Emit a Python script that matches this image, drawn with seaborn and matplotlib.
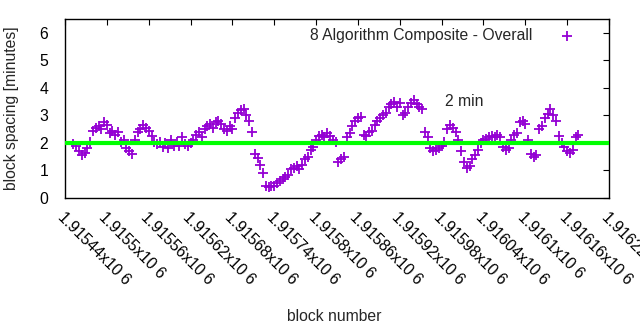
import matplotlib
matplotlib.use("Agg")
import matplotlib.pyplot as plt
import seaborn as sns
import numpy as np
import pandas as pd

# ---- data ----
block_start = 1915452
block_step = 4
spacing = [
    1.95, 1.9, 1.7, 1.55, 1.65, 1.8, 2.05, 2.45, 2.55, 2.6,
    2.5, 2.75, 2.65, 2.35, 2.45, 2.3, 2.4, 2.05, 2.1, 1.8,
    1.7, 1.6, 2.1, 2.4, 2.5, 2.65, 2.55, 2.45, 2.25, 2.05,
    1.95, 2.05, 1.85, 2.0, 1.8, 2.1, 1.9, 2.05, 1.9, 2.2,
    1.95, 1.9, 2.0, 2.1, 2.3, 2.4, 2.2, 2.5, 2.6, 2.7,
    2.55, 2.75, 2.8, 2.7, 2.5, 2.45, 2.6, 2.5, 2.9, 3.1,
    3.2, 3.25, 3.0, 2.8, 2.4, 1.6, 1.45, 1.2, 0.9, 0.45,
    0.4, 0.45, 0.45, 0.55, 0.6, 0.7, 0.75, 0.85, 1.05, 1.1,
    1.15, 1.05, 1.2, 1.4, 1.5, 1.75, 1.85, 2.1, 2.25, 2.3,
    2.2, 2.35, 2.25, 2.1, 2.05, 1.3, 1.4, 1.5, 2.2, 2.35,
    2.6, 2.8, 2.9, 2.95, 2.3, 2.25, 2.4, 2.45, 2.65, 2.8,
    2.9, 3.0, 3.1, 3.3, 3.4, 3.5, 3.3, 3.45, 3.0, 3.1,
    3.3, 3.45, 3.55, 3.4, 3.3, 3.25, 2.4, 2.2, 1.8, 1.7,
    1.75, 1.8, 1.9, 2.05, 2.5, 2.65, 2.55, 2.4, 2.1, 1.7,
    1.3, 1.1, 1.15, 1.4, 1.55, 1.75, 2.0, 2.1, 2.15, 2.2,
    2.25, 2.2, 2.3, 2.2, 1.85, 1.75, 1.8, 2.1, 2.3, 2.35,
    2.75, 2.8, 2.7, 2.1, 1.6, 1.5, 1.55, 2.5, 2.6, 2.9,
    3.05, 3.25, 3.0, 2.8, 2.25, 2.0, 1.85, 1.7, 1.65, 1.75,
    2.2, 2.3,
]
blocks = [block_start + block_step * i for i in range(len(spacing))]
target_minutes = 2
series_label = "8 Algorithm Composite - Overall"
tick_values = [1915440, 1915500, 1915560, 1915620, 1915680, 1915740, 1915800,
               1915860, 1915920, 1915980, 1916040, 1916100, 1916160, 1916220]
tick_labels = ["1.91544x10 6", "1.9155x10 6", "1.91556x10 6", "1.91562x10 6",
               "1.91568x10 6", "1.91574x10 6", "1.9158x10 6", "1.91586x10 6",
               "1.91592x10 6", "1.91598x10 6", "1.91604x10 6", "1.9161x10 6",
               "1.91616x10 6", "1.91622x10 6"]
y_ticks = [0, 1, 2, 3, 4, 5, 6]

df = pd.DataFrame({"block": blocks, "spacing": spacing})

FS = 11.3
sns.set_theme(style="white")
plt.rcParams["font.family"] = ["Liberation Sans", "DejaVu Sans"]
plt.rcParams["font.size"] = FS

fig = plt.figure(figsize=(6.4, 3.3), dpi=100)
ax = fig.add_axes([0.1016, 0.4, 0.85, 0.5424])

ax.axhline(target_minutes, color="#00ff00", linewidth=3, zorder=3)
sns.scatterplot(data=df, x="block", y="spacing", marker="+", s=50,
                color="#9400d3", linewidth=1.3, ax=ax, label=series_label,
                zorder=2)

ax.set_xlim(tick_values[0], tick_values[-1])
ax.set_ylim(0, 6.5)
ax.set_xticks(tick_values)
ax.set_xticklabels(tick_labels, rotation=-45, ha="left", va="top",
                   rotation_mode="anchor")
ax.set_yticks(y_ticks)
ax.set_yticklabels([str(v) for v in y_ticks])
ax.tick_params(axis="both", direction="in", length=4, width=0.8,
               top=True, right=True, labelsize=FS, colors="black",
               pad=12)
ax.tick_params(axis="x", pad=8)
for sp in ax.spines.values():
    sp.set_color("black")
    sp.set_linewidth(1.0)

ax.set_xlabel("block number", fontsize=FS)
ax.set_ylabel("block spacing [minutes]", fontsize=FS)
ax.yaxis.set_label_coords(-0.085, 0.5)
ax.xaxis.set_label_coords(0.494, -0.62)

ax.text(1915985, 3.5, "2 min", fontsize=FS, va="center", ha="left")

leg = ax.legend(loc="upper right", frameon=False, markerfirst=False,
                fontsize=FS, handletextpad=1.2, borderaxespad=0.3,
                bbox_to_anchor=(0.972, 1.01))

fig.savefig("out.png", dpi=100, facecolor="white")
